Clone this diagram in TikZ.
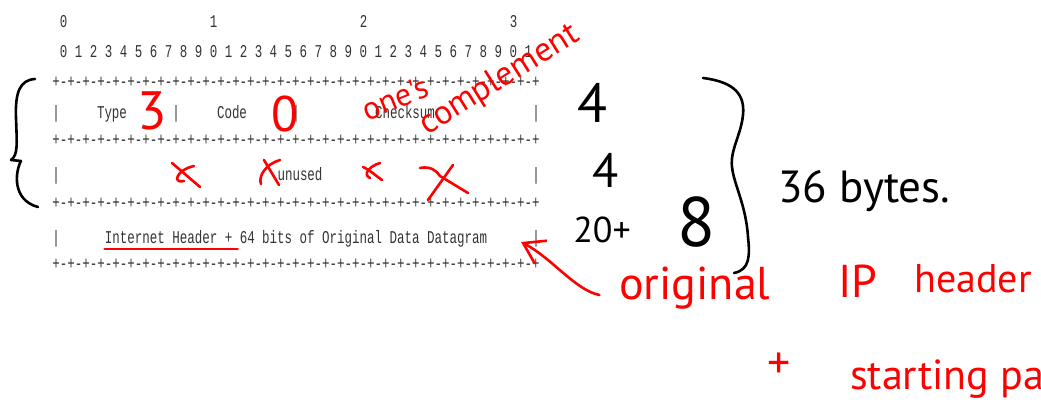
\documentclass[tikz,border=0pt]{standalone}
\usepackage{fontspec}
\usetikzlibrary{arrows.meta}
\newfontfamily\rfcfont[FakeStretch=0.694]{Liberation Mono}
\newfontfamily\handfont{PT Sans}
\newcommand\handat[1]{\handfont\fontsize{#1}{#1}\selectfont}
\newcommand\sepline{+-+-+-+-+-+-+-+-+-+-+-+-+-+-+-+-+-+-+-+-+-+-+-+-+-+-+-+-+-+-+-+-+}

\begin{document}
\begin{tikzpicture}[x=1pt, y=-1pt,
        rfc/.style={font=\rfcfont\fontsize{18}{18}\selectfont, text=black!80, inner sep=0pt, anchor=base},
        hand/.style={inner sep=0pt, text=red},
        ink/.style={inner sep=0pt, text=black},
        redpen/.style={draw=red, line width=2.6pt, line cap=round, line join=round},
        blackpen/.style={draw=black, line width=2.6pt, line cap=round, line join=round}
    ]
    \useasboundingbox (0,0) rectangle (1041,414);

    % bit ruler
    \node[rfc] (hdr0) at (63.5,28) {0};
    \node[rfc] (hdr1) at (213.5,28) {1};
    \node[rfc] (hdr2) at (363.5,28) {2};
    \node[rfc] (hdr3) at (513.5,28) {3};
    \node[rfc] (bits) at (296,58) {0 1 2 3 4 5 6 7 8 9 0 1 2 3 4 5 6 7 8 9 0 1 2 3 4 5 6 7 8 9 0 1};

    % header rows
    \foreach \y/\n in {88/sepa, 146/sepb, 208/sepc, 269/sepd}
        \node[rfc] (\n) at (296,\y) {\sepline};
    \foreach \x/\y/\n in {56/119/bara, 176/119/barb, 296/119/barc, 536/119/bard,
                          56/181/bare, 536/181/barf, 56/243/barg, 536/243/barh}
        \node[rfc] (\n) at (\x,\y) {|};
    \node[rfc] (type) at (112,119) {Type};
    \node[rfc] (code) at (232,119) {Code};
    \node[rfc] (checksum) at (405,119) {Checksum};
    \node[rfc] (unused) at (300,181) {unused};
    \node[rfc] (data) at (296,243) {Internet Header + 64 bits of Original Data Datagram};

    % red notes on the fields
    \node[hand, font=\handat{54}] (typeval) at (152,111) {3};
    \node[hand, font=\handat{50}] (codeval) at (285,114) {0};
    \node[hand, font=\handat{32}, rotate=22] (ones) at (395,98) {one's};
    \node[hand, font=\handat{34}, rotate=32] (compl) at (500,80) {complement};
    \draw[redpen] (172,163) -- (200,187);
    \draw[redpen] (194,166) .. controls (176,170) and (172,184) .. (184,181);
    \draw[redpen] (280,160) .. controls (266,164) and (258,176) .. (261,184);
    \draw[redpen] (264,160) -- (279,185);
    \draw[redpen] (363,167) .. controls (370,170) and (376,176) .. (382,180);
    \draw[redpen] (380,163) .. controls (370,166) and (362,174) .. (370,178);
    \draw[redpen] (420,168) .. controls (430,166) and (436,170) .. (440,176) -- (468,193);
    \draw[redpen] (453,165) -- (428,200);
    \draw[redpen] ([yshift=-6pt]data.base west) -- ++(133,0);

    % sizes
    \draw[blackpen] (35,79) .. controls (20,80) and (15,92) .. (16,118) .. controls (17,145) and (18,155) .. (11,160)
        -- (21,161) .. controls (15,172) and (12,200) .. (38,207);
    \node[ink, font=\handat{55}] (sizea) at (592,103) {4};
    \node[ink, font=\handat{48}] (sizeb) at (606,170) {4};
    \node[ink, font=\handat{36}] (sizec) at (602,230) {20+};
    \node[ink, font=\handat{70}] (sized) at (697,222) {8};
    \draw[blackpen] (703,78) .. controls (735,82) and (745,95) .. (743,115) .. controls (741,135) and (730,150) .. (732,167)
        .. controls (734,185) and (746,205) .. (748,237) .. controls (750,255) and (750,270) .. (734,273);
    \node[ink, font=\handat{45}, anchor=base west] (total) at (778,203) {36 bytes.};

    % what the data field holds
    \node[hand, font=\handat{46}, anchor=base west] (orig) at (619,299) {original};
    \node[hand, font=\handat{46}, anchor=base west] (ip) at (838,297) {IP};
    \node[hand, font=\handat{40}, anchor=base west] (hdr) at (914,292) {header};
    \node[hand, font=\handat{46}] (plus) at (779,366) {+};
    \node[hand, font=\handat{42}, anchor=base west] (start) at (850,389) {starting pa};
    \coordinate (tip) at (521,242);
    \draw[redpen, -{Straight Barb[length=20pt, width=26pt]}, shorten <=20pt]
        (orig.base west) .. controls (575,290) and (552,258) .. (tip);

\end{tikzpicture}
\end{document}
